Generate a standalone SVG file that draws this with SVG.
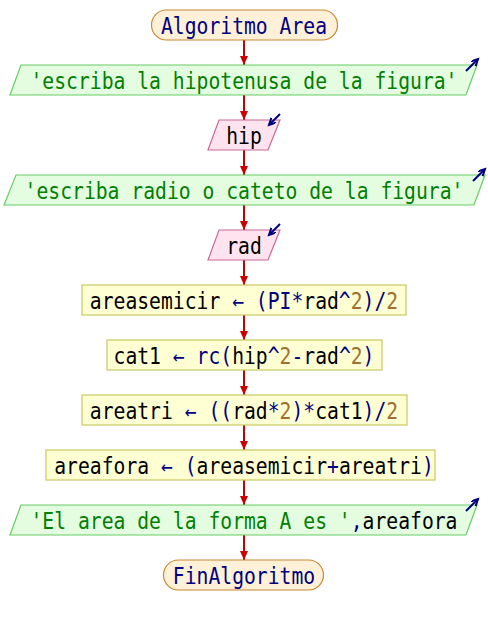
<svg xmlns="http://www.w3.org/2000/svg" width="488" height="625" viewBox="0 0 488 625">
  <defs>
    <marker id="flowhead" markerUnits="userSpaceOnUse" markerWidth="12" markerHeight="10" refX="9" refY="4" orient="auto">
      <path d="M0,0 L9,4 L0,8 Z" fill="#cc0000"/>
    </marker>
    <marker id="iohead" markerUnits="userSpaceOnUse" markerWidth="10" markerHeight="10" refX="7" refY="3.5" orient="auto">
      <path d="M0,0 L7,3.5 L0,7" fill="none" stroke="#000080" stroke-width="2"/>
    </marker>
    <style>
      /* monospace labels, narrowed horizontally by the per-label transform */
      text { font-family: "DejaVu Sans Mono", "Liberation Mono", monospace; font-size: 23px; text-anchor: middle; }
      .term { fill: #fff0d8; stroke: #cc8833; stroke-width: 1.2; }
      .out { fill: #e4fde0; stroke: #66cc66; stroke-width: 1.2; }
      .in { fill: #ffe4f0; stroke: #cc6699; stroke-width: 1.2; }
      .proc { fill: #ffffd4; stroke: #c8c860; stroke-width: 1.2; }
      .flow { stroke: #cc0000; stroke-width: 2; fill: none; marker-end: url(#flowhead); }
      .io { stroke: #000080; stroke-width: 2; fill: none; marker-end: url(#iohead); }
      .kw { fill: #000080; }
      .str { fill: #008000; }
      .var { fill: #000000; }
      .op { fill: #000080; }
      .num { fill: #a07030; }
    </style>
  </defs>

  <!-- connectors -->
  <g id="connectors">
    <line class="flow" x1="244" y1="40" x2="244" y2="65"/>
    <line class="flow" x1="244" y1="95" x2="244" y2="120"/>
    <line class="flow" x1="244" y1="150" x2="244" y2="175"/>
    <line class="flow" x1="244" y1="205" x2="244" y2="230"/>
    <line class="flow" x1="244" y1="260" x2="244" y2="285"/>
    <line class="flow" x1="244" y1="315" x2="244" y2="340"/>
    <line class="flow" x1="244" y1="370" x2="244" y2="395"/>
    <line class="flow" x1="244" y1="425" x2="244" y2="450"/>
    <line class="flow" x1="244" y1="480" x2="244" y2="505"/>
    <line class="flow" x1="244" y1="535" x2="244" y2="560"/>
  </g>

  <g id="start">
    <rect class="term" x="151.5" y="10" width="186" height="30" rx="15" ry="15"/>
    <text transform="translate(244 33.5) scale(0.857 1)" class="kw">Algoritmo Area</text>
  </g>

  <g id="write-hip-prompt">
    <polygon class="out" points="21,65 477,65 466,95 10,95"/>
    <line class="io" x1="466" y1="71" x2="478" y2="59"/>
    <text transform="translate(244 88.5) scale(0.857 1)" class="str">'escriba la hipotenusa de la figura'</text>
  </g>

  <g id="read-hip">
    <polygon class="in" points="219,120 280,120 268,150 208,150"/>
    <line class="io" x1="280" y1="114" x2="269" y2="125"/>
    <text transform="translate(244 143.5) scale(0.857 1)" class="var">hip</text>
  </g>

  <g id="write-rad-prompt">
    <polygon class="out" points="16,175 485,175 474,205 4,205"/>
    <line class="io" x1="473" y1="181" x2="485" y2="169"/>
    <text transform="translate(244 198.5) scale(0.857 1)" class="str">'escriba radio o cateto de la figura'</text>
  </g>

  <g id="read-rad">
    <polygon class="in" points="219,230 280,230 268,260 208,260"/>
    <line class="io" x1="280" y1="224" x2="269" y2="235"/>
    <text transform="translate(244 253.5) scale(0.857 1)" class="var">rad</text>
  </g>

  <g id="assign-areasemicir">
    <rect class="proc" x="82" y="285" width="324" height="30"/>
    <text transform="translate(244 308.5) scale(0.857 1)" xml:space="preserve"><tspan class="var">areasemicir</tspan><tspan class="op"> ← (PI*</tspan><tspan class="var">rad</tspan><tspan class="op">^</tspan><tspan class="num">2</tspan><tspan class="op">)/</tspan><tspan class="num">2</tspan></text>
  </g>

  <g id="assign-cat1">
    <rect class="proc" x="107" y="340" width="275" height="30"/>
    <text transform="translate(244 363.5) scale(0.857 1)" xml:space="preserve"><tspan class="var">cat1</tspan><tspan class="op"> ← rc(</tspan><tspan class="var">hip</tspan><tspan class="op">^</tspan><tspan class="num">2</tspan><tspan class="op">-</tspan><tspan class="var">rad</tspan><tspan class="op">^</tspan><tspan class="num">2</tspan><tspan class="op">)</tspan></text>
  </g>

  <g id="assign-areatri">
    <rect class="proc" x="82" y="395" width="325" height="30"/>
    <text transform="translate(244 418.5) scale(0.857 1)" xml:space="preserve"><tspan class="var">areatri</tspan><tspan class="op"> ← ((</tspan><tspan class="var">rad</tspan><tspan class="op">*</tspan><tspan class="num">2</tspan><tspan class="op">)*</tspan><tspan class="var">cat1</tspan><tspan class="op">)/</tspan><tspan class="num">2</tspan></text>
  </g>

  <g id="assign-areafora">
    <rect class="proc" x="46" y="450" width="389" height="30"/>
    <text transform="translate(244 473.5) scale(0.857 1)" xml:space="preserve"><tspan class="var">areafora</tspan><tspan class="op"> ← (</tspan><tspan class="var">areasemicir</tspan><tspan class="op">+</tspan><tspan class="var">areatri</tspan><tspan class="op">)</tspan></text>
  </g>

  <g id="write-result">
    <polygon class="out" points="21,505 477,505 466,535 10,535"/>
    <line class="io" x1="466" y1="511" x2="478" y2="499"/>
    <text transform="translate(244 528.5) scale(0.857 1)" xml:space="preserve"><tspan class="str">'El area de la forma A es '</tspan><tspan class="op">,</tspan><tspan class="var">areafora</tspan></text>
  </g>

  <g id="end">
    <rect class="term" x="163.5" y="560" width="160" height="30" rx="15" ry="15"/>
    <text transform="translate(244 583.5) scale(0.857 1)" class="kw">FinAlgoritmo</text>
  </g>
</svg>
